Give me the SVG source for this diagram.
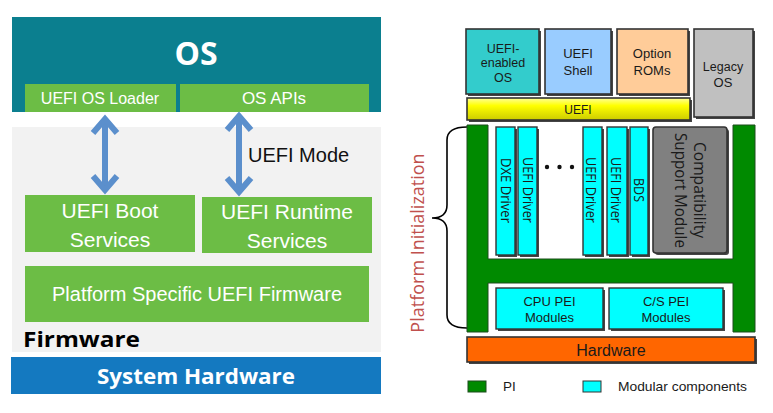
<svg xmlns="http://www.w3.org/2000/svg" width="773" height="413" viewBox="0 0 773 413">
<style>
.lt{font-family:"Liberation Sans","Open Sans",sans-serif;fill:#fff;text-anchor:middle}
.bd{font-family:"Open Sans","Liberation Sans",sans-serif;font-weight:bold}
.rt{font-family:"Liberation Sans","Open Sans",sans-serif;fill:#1a1a1a;text-anchor:middle}
.vt{font-family:"Open Sans","Liberation Sans",sans-serif;fill:#1a1a1a;text-anchor:middle}
.gbox{fill:#6cbd45}
.arr{stroke:#5b8fcc;stroke-width:6;fill:none;stroke-linecap:butt}
.box{stroke:#333;stroke-width:1.6}
.sh{fill:#444}
.cy{fill:#00ffff;stroke:#333;stroke-width:1.4}
</style>
<defs>
<linearGradient id="yg" x1="0" y1="0" x2="0" y2="1">
<stop offset="0" stop-color="#ffff99"/>
<stop offset="0.35" stop-color="#ffff00"/>
<stop offset="1" stop-color="#cccc00"/>
</linearGradient>
</defs>
<rect width="773" height="413" fill="#fff"/>

<!-- Left diagram -->
<g id="firmware-area">
<rect x="12" y="127" width="369" height="225" fill="#f2f2f2"/>
<text x="23" y="347" class="bd" font-size="21" fill="#000" textLength="117" lengthAdjust="spacingAndGlyphs">Firmware</text>
</g>
<g id="os">
<rect x="12" y="17" width="369" height="95" fill="#0b7f8f"/>
<text x="196" y="65" class="bd" font-size="32" fill="#fff" text-anchor="middle">OS</text>
</g>
<g id="uefi-os-loader">
<rect class="gbox" x="25" y="84" width="151" height="28"/>
<text class="lt" x="100" y="104" font-size="16">UEFI OS Loader</text>
</g>
<g id="os-apis">
<rect class="gbox" x="180" y="84" width="189" height="28"/>
<text class="lt" x="274" y="104" font-size="17">OS APIs</text>
</g>
<g id="boot-services">
<rect class="gbox" x="25" y="195" width="170" height="57"/>
<text class="lt" x="110" y="218" font-size="21">UEFI Boot</text>
<text class="lt" x="110" y="247" font-size="21">Services</text>
</g>
<g id="runtime-services">
<rect class="gbox" x="202" y="197" width="170" height="56"/>
<text class="lt" x="287" y="219" font-size="21">UEFI Runtime</text>
<text class="lt" x="287" y="248" font-size="21">Services</text>
</g>
<g id="platform-firmware">
<rect class="gbox" x="25" y="266" width="344" height="56"/>
<text class="lt" x="197" y="301" font-size="20">Platform Specific UEFI Firmware</text>
</g>
<g id="system-hardware">
<rect x="11" y="357" width="370" height="37" fill="#1479c0"/>
<text x="196" y="384" class="bd" font-size="21" fill="#fff" text-anchor="middle" textLength="198" lengthAdjust="spacingAndGlyphs">System Hardware</text>
</g>
<g id="connectors">
<line class="arr" x1="105" y1="120" x2="105" y2="189"/>
<polyline class="arr" points="93,133 105,119 117,133"/>
<polyline class="arr" points="93,176 105,190 117,176"/>
<line class="arr" x1="239" y1="117" x2="239" y2="191"/>
<polyline class="arr" points="227,130 239,116 251,130"/>
<polyline class="arr" points="227,178 239,192 251,178"/>
<text x="248" y="162" font-family="Liberation Sans,Open Sans,sans-serif" font-size="20" fill="#111">UEFI Mode</text>
<path d="M467,127 Q447,127 447,140 V205 Q447,218 432,218 Q447,218 447,231 V315 Q447,328 467,328" fill="none" stroke="#000" stroke-width="1.6"/>
</g>

<!-- Right diagram -->
<g id="uefi-enabled-os">
<rect class="sh" x="468" y="31" width="73" height="65"/>
<rect class="box" x="466" y="29" width="73" height="65" fill="#33cccc"/>
<text class="rt" x="503" y="53" font-size="12.5">UEFI-</text>
<text class="rt" x="503" y="67" font-size="12.5">enabled</text>
<text class="rt" x="503" y="82" font-size="12.5">OS</text>
</g>
<g id="uefi-shell">
<rect class="sh" x="547" y="31" width="66" height="65"/>
<rect class="box" x="545" y="29" width="66" height="65" fill="#99ccff"/>
<text class="rt" x="578" y="58" font-size="13">UEFI</text>
<text class="rt" x="578" y="75" font-size="13">Shell</text>
</g>
<g id="option-roms">
<rect class="sh" x="619" y="31" width="71" height="65"/>
<rect class="box" x="617" y="29" width="71" height="65" fill="#ffcc99"/>
<text class="rt" x="652" y="58" font-size="13">Option</text>
<text class="rt" x="652" y="75" font-size="13">ROMs</text>
</g>
<g id="legacy-os">
<rect class="sh" x="696" y="31" width="59" height="88"/>
<rect class="box" x="694" y="29" width="59" height="88" fill="#c0c0c0"/>
<text class="rt" x="723" y="71" font-size="12.5">Legacy</text>
<text class="rt" x="723" y="87" font-size="13">OS</text>
</g>
<g id="uefi-bar">
<rect class="sh" x="469" y="100" width="223" height="22"/>
<rect class="box" x="467" y="98" width="223" height="22" fill="url(#yg)"/>
<text class="rt" x="578" y="114" font-size="12">UEFI</text>
</g>
<g id="pi-frame">
<path d="M467,125 H488 V259 H733 V125 H755 V332 H733 V283 H488 V332 H467 Z" fill="#008a00" stroke="#1d4d1d" stroke-width="1"/>
</g>
<g id="dxe-driver">
<rect class="sh" x="498" y="129" width="19" height="128"/>
<rect class="cy" x="496" y="127" width="19" height="128"/>
<text class="vt" transform="translate(501,190.5) rotate(90)" font-size="15" textLength="65" lengthAdjust="spacingAndGlyphs">DXE Driver</text>
</g>
<g id="uefi-driver-1">
<rect class="sh" x="520" y="129" width="19" height="128"/>
<rect class="cy" x="518" y="127" width="19" height="128"/>
<text class="vt" transform="translate(522.5,190) rotate(90)" font-size="15" textLength="66" lengthAdjust="spacingAndGlyphs">UEFI Driver</text>
</g>
<g id="ellipsis">
<circle cx="547" cy="167" r="2.2" fill="#111"/>
<circle cx="559.5" cy="167" r="2.2" fill="#111"/>
<circle cx="572" cy="167" r="2.2" fill="#111"/>
</g>
<g id="uefi-driver-2">
<rect class="sh" x="585" y="129" width="19" height="128"/>
<rect class="cy" x="583" y="127" width="19" height="128"/>
<text class="vt" transform="translate(586,190) rotate(90)" font-size="15" textLength="66" lengthAdjust="spacingAndGlyphs">UEFI Driver</text>
</g>
<g id="uefi-driver-3">
<rect class="sh" x="609" y="129" width="20" height="128"/>
<rect class="cy" x="607" y="127" width="20" height="128"/>
<text class="vt" transform="translate(610.5,190) rotate(90)" font-size="15" textLength="66" lengthAdjust="spacingAndGlyphs">UEFI Driver</text>
</g>
<g id="bds">
<rect class="sh" x="632" y="129" width="18" height="128"/>
<rect class="cy" x="630" y="127" width="18" height="128"/>
<text class="vt" transform="translate(634,190) rotate(90)" font-size="15" textLength="24" lengthAdjust="spacingAndGlyphs">BDS</text>
</g>
<g id="csm">
<rect class="sh" x="655" y="129" width="74" height="126" rx="3"/>
<rect class="box" x="653" y="127" width="74" height="126" rx="3" fill="#808080"/>
<text class="vt" transform="translate(694,190) rotate(90)" font-size="16" textLength="96" lengthAdjust="spacingAndGlyphs">Compatibility</text>
<text class="vt" transform="translate(675,190.5) rotate(90)" font-size="16" textLength="115" lengthAdjust="spacingAndGlyphs">Support Module</text>
</g>
<g id="cpu-pei">
<rect class="sh" x="498" y="290" width="107" height="41"/>
<rect class="cy" x="496" y="288" width="107" height="41"/>
<text class="rt" x="549.5" y="306" font-size="13">CPU PEI</text>
<text class="rt" x="549.5" y="322" font-size="13">Modules</text>
</g>
<g id="cs-pei">
<rect class="sh" x="611" y="290" width="114" height="41"/>
<rect class="cy" x="609" y="288" width="114" height="41"/>
<text class="rt" x="666" y="306" font-size="13">C/S PEI</text>
<text class="rt" x="666" y="322" font-size="13">Modules</text>
</g>
<g id="hardware">
<rect class="sh" x="469" y="339" width="288" height="25"/>
<rect class="box" x="467" y="337" width="288" height="25" fill="#ff6600"/>
<text class="rt" x="611" y="355.5" font-size="16">Hardware</text>
</g>
<g id="platform-initialization-label">
<text transform="translate(424,243) rotate(-90)" font-family="Open Sans,Liberation Sans,sans-serif" font-size="18" fill="#c0504d" text-anchor="middle">Platform Initialization</text>
</g>
<g id="legend">
<rect x="468" y="381" width="18" height="11" fill="#008a00" stroke="#1d4d1d" stroke-width="1"/>
<text x="503" y="391" font-family="Liberation Sans,Open Sans,sans-serif" font-size="13.5" fill="#1a1a1a">PI</text>
<rect x="583" y="381" width="18" height="11" fill="#00ffff" stroke="#333" stroke-width="1"/>
<text x="618" y="391" font-family="Liberation Sans,Open Sans,sans-serif" font-size="13.5" fill="#1a1a1a" textLength="129" lengthAdjust="spacingAndGlyphs">Modular components</text>
</g>
</svg>
